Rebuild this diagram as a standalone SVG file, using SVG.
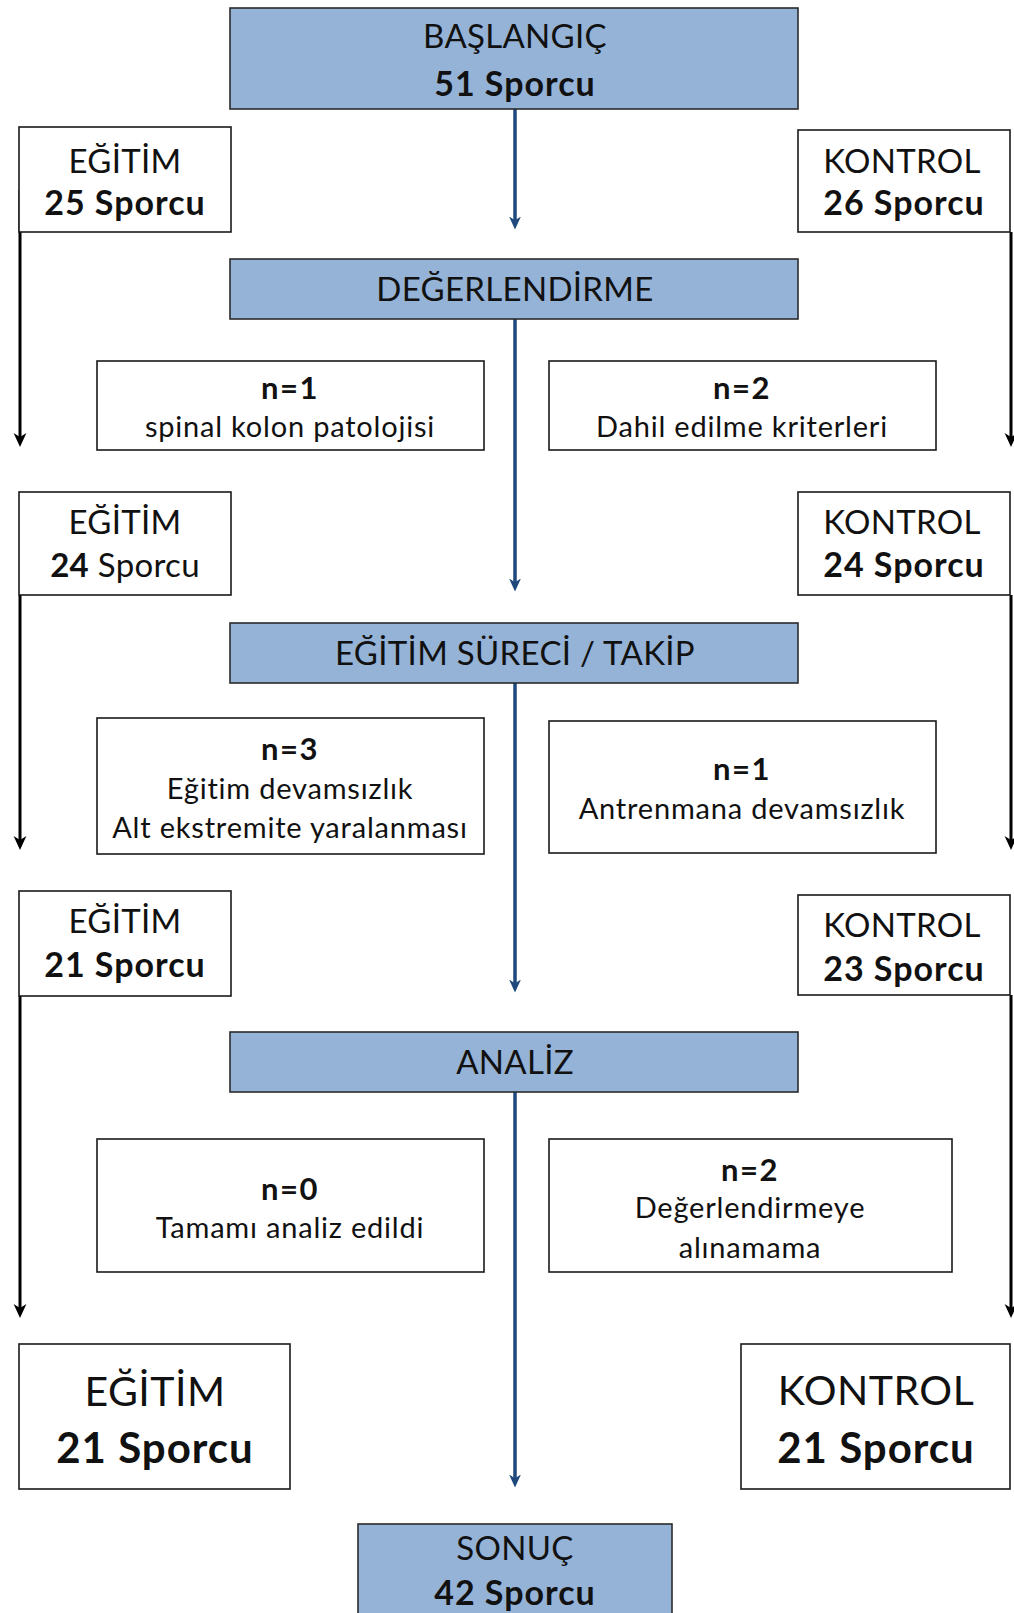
<svg xmlns="http://www.w3.org/2000/svg" width="1014" height="1613" viewBox="0 0 1014 1613">
  <defs>
    <style>
      .stage { fill: #95B3D7; stroke: #2b2b2b; stroke-width: 1.6; }
      .box { fill: #ffffff; stroke: #1a1a1a; stroke-width: 1.6; }
      text { font-family: Lato, "Open Sans", sans-serif; fill: #111111; text-anchor: middle; }
      .t { font-size: 33px; letter-spacing: 0.3px; }
      .tb { font-size: 34px; font-weight: bold; letter-spacing: 1px; }
      .s { font-size: 29px; letter-spacing: 0.8px; }
      .sb { font-size: 31px; font-weight: bold; letter-spacing: 1.5px; }
      .big { font-size: 41px; letter-spacing: 0.5px; }
      .bigb { font-size: 42px; font-weight: bold; letter-spacing: 1px; }
      .main { fill: none; stroke: #1F497D; stroke-width: 3.5; }
      .side { fill: none; stroke: #000000; stroke-width: 3; }
    </style>
    <marker id="arrowMain" viewBox="0 0 12 12" markerWidth="13" markerHeight="13" refX="6" refY="6" orient="auto" markerUnits="userSpaceOnUse">
      <path d="M0,0.5 L12,6 L0,11.5 L3.5,6 z" fill="#1F497D"/>
    </marker>
    <marker id="arrowSide" viewBox="0 0 12 12" markerWidth="14" markerHeight="14" refX="6" refY="6" orient="auto" markerUnits="userSpaceOnUse">
      <path d="M0,0.5 L12,6 L0,11.5 L3.5,6 z" fill="#000000"/>
    </marker>
  </defs>

  <rect width="1014" height="1613" fill="#ffffff"/>

  <!-- connectors -->
  <g id="connectors">
    <line class="main" x1="515" y1="109" x2="515" y2="223" marker-end="url(#arrowMain)"/>
    <line class="main" x1="515" y1="319" x2="515" y2="585" marker-end="url(#arrowMain)"/>
    <line class="main" x1="515" y1="683" x2="515" y2="986" marker-end="url(#arrowMain)"/>
    <line class="main" x1="515" y1="1092" x2="515" y2="1481" marker-end="url(#arrowMain)"/>

    <line class="side" x1="20" y1="190" x2="20" y2="440" marker-end="url(#arrowSide)"/>
    <line class="side" x1="20" y1="595" x2="20" y2="843" marker-end="url(#arrowSide)"/>
    <line class="side" x1="20" y1="996" x2="20" y2="1311" marker-end="url(#arrowSide)"/>

    <line class="side" x1="1011" y1="232" x2="1011" y2="440" marker-end="url(#arrowSide)"/>
    <line class="side" x1="1011" y1="595" x2="1011" y2="843" marker-end="url(#arrowSide)"/>
    <line class="side" x1="1011" y1="995" x2="1011" y2="1311" marker-end="url(#arrowSide)"/>
  </g>

  <!-- main stages -->
  <g id="baslangic">
    <rect class="stage" x="230" y="8" width="568" height="101"/>
    <text class="t" x="515" y="48">BAŞLANGIÇ</text>
    <text class="tb" x="515" y="96">51 Sporcu</text>
  </g>
  <g id="degerlendirme">
    <rect class="stage" x="230" y="259" width="568" height="60"/>
    <text class="t" x="515" y="301">DEĞERLENDİRME</text>
  </g>
  <g id="egitim-sureci">
    <rect class="stage" x="230" y="623" width="568" height="60"/>
    <text class="t" x="515" y="665">EĞİTİM SÜRECİ / TAKİP</text>
  </g>
  <g id="analiz">
    <rect class="stage" x="230" y="1032" width="568" height="60"/>
    <text class="t" x="515" y="1074">ANALİZ</text>
  </g>
  <g id="sonuc">
    <rect class="stage" x="358" y="1524" width="314" height="95"/>
    <text class="t" x="515" y="1560">SONUÇ</text>
    <text class="tb" x="515" y="1605">42 Sporcu</text>
  </g>

  <!-- group counts -->
  <g id="egitim-25">
    <rect class="box" x="19" y="127" width="212" height="105"/>
    <text class="t" x="125" y="173">EĞİTİM</text>
    <text class="tb" x="125" y="215">25 Sporcu</text>
  </g>
  <g id="kontrol-26">
    <rect class="box" x="798" y="130" width="212" height="102"/>
    <text class="t" x="902" y="173">KONTROL</text>
    <text class="tb" x="904" y="215">26 Sporcu</text>
  </g>
  <g id="egitim-24">
    <rect class="box" x="19" y="492" width="212" height="103"/>
    <text class="t" x="125" y="534">EĞİTİM</text>
    <text class="t" x="125" y="577"><tspan font-weight="bold">24</tspan> Sporcu</text>
  </g>
  <g id="kontrol-24">
    <rect class="box" x="798" y="492" width="212" height="103"/>
    <text class="t" x="902" y="534">KONTROL</text>
    <text class="tb" x="904" y="577">24 Sporcu</text>
  </g>
  <g id="egitim-21">
    <rect class="box" x="19" y="891" width="212" height="105"/>
    <text class="t" x="125" y="933">EĞİTİM</text>
    <text class="tb" x="125" y="977">21 Sporcu</text>
  </g>
  <g id="kontrol-23">
    <rect class="box" x="798" y="895" width="212" height="100"/>
    <text class="t" x="902" y="937">KONTROL</text>
    <text class="tb" x="904" y="981">23 Sporcu</text>
  </g>
  <g id="egitim-final">
    <rect class="box" x="19" y="1344" width="271" height="145"/>
    <text class="big" x="155" y="1406">EĞİTİM</text>
    <text class="bigb" x="155" y="1463">21 Sporcu</text>
  </g>
  <g id="kontrol-final">
    <rect class="box" x="741" y="1344" width="269" height="145"/>
    <text class="big" x="876" y="1405">KONTROL</text>
    <text class="bigb" x="876" y="1463">21 Sporcu</text>
  </g>

  <!-- exclusions -->
  <g id="cikan-egitim-1">
    <rect class="box" x="97" y="361" width="387" height="89"/>
    <text class="sb" x="290" y="399">n=1</text>
    <text class="s" x="290" y="437">spinal kolon patolojisi</text>
  </g>
  <g id="cikan-kontrol-1">
    <rect class="box" x="549" y="361" width="387" height="89"/>
    <text class="sb" x="742" y="399">n=2</text>
    <text class="s" x="742" y="437">Dahil edilme kriterleri</text>
  </g>
  <g id="cikan-egitim-2">
    <rect class="box" x="97" y="718" width="387" height="136"/>
    <text class="sb" x="290" y="760">n=3</text>
    <text class="s" x="290" y="799">Eğitim devamsızlık</text>
    <text class="s" x="290" y="838">Alt ekstremite yaralanması</text>
  </g>
  <g id="cikan-kontrol-2">
    <rect class="box" x="549" y="721" width="387" height="132"/>
    <text class="sb" x="742" y="780">n=1</text>
    <text class="s" x="742" y="819">Antrenmana devamsızlık</text>
  </g>
  <g id="cikan-egitim-3">
    <rect class="box" x="97" y="1139" width="387" height="133"/>
    <text class="sb" x="290" y="1200">n=0</text>
    <text class="s" x="290" y="1238">Tamamı analiz edildi</text>
  </g>
  <g id="cikan-kontrol-3">
    <rect class="box" x="549" y="1139" width="403" height="133"/>
    <text class="sb" x="750" y="1181">n=2</text>
    <text class="s" x="750" y="1218">Değerlendirmeye</text>
    <text class="s" x="750" y="1258">alınamama</text>
  </g>
</svg>
